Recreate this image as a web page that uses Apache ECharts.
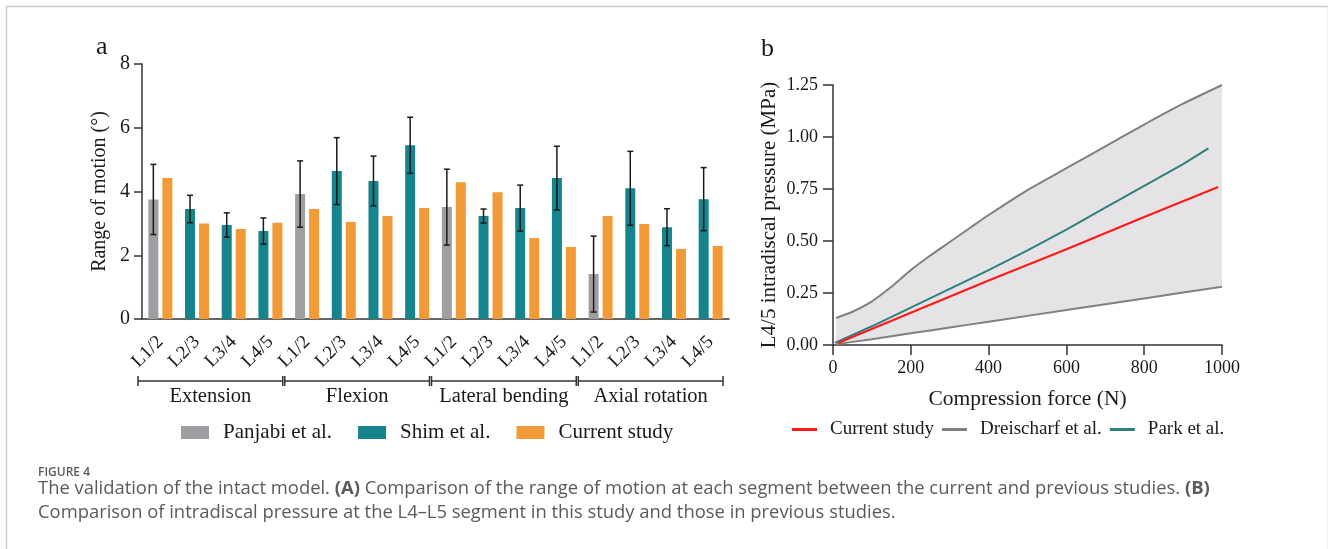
<!DOCTYPE html>
<html>
<head>
<meta charset="utf-8">
<title>Figure 4</title>
<script src="https://cdn.jsdelivr.net/npm/echarts@6/dist/echarts.min.js"></script>
<style>
  html, body { margin: 0; padding: 0; background: #fff; }
  #main { width: 1328px; height: 549px; }
</style>
</head>
<body>
<div id="main"></div>
<script>
// panel a: range of motion per segment
var segments = ['L1/2', 'L2/3', 'L3/4', 'L4/5', 'L1/2', 'L2/3', 'L3/4', 'L4/5',
  'L1/2', 'L2/3', 'L3/4', 'L4/5', 'L1/2', 'L2/3', 'L3/4', 'L4/5'];
var motions = ['Extension', 'Flexion', 'Lateral bending', 'Axial rotation'];
var panjabi = [3.75, '-', '-', '-', 3.92, '-', '-', '-', 3.51, '-', '-', '-', 1.41, '-', '-', '-'];
var panjabiSd = [1.1, '-', '-', '-', 1.04, '-', '-', '-', 1.19, '-', '-', '-', 1.19, '-', '-', '-'];
var shim = ['-', 3.45, 2.95, 2.76, '-', 4.64, 4.33, 5.45, '-', 3.23, 3.48, 4.42, '-', 4.1, 2.88, 3.76];
var shimSd = ['-', 0.43, 0.38, 0.41, '-', 1.05, 0.78, 0.88, '-', 0.22, 0.72, 1.0, '-', 1.16, 0.58, 0.99];
var current = [4.42, 3.0, 2.82, 3.02, 3.45, 3.04, 3.23, 3.48, 4.29, 3.98, 2.54, 2.26, 3.23, 2.98, 2.2, 2.29];

// panel b: intradiscal pressure vs compression force
var bandForce = [8, 50, 100, 150, 200, 250, 300, 350, 400, 500, 600, 700, 800, 900, 1000];
var dreiUpper = [0.13, 0.16, 0.21, 0.28, 0.36, 0.43, 0.495, 0.56, 0.625, 0.745, 0.85, 0.955, 1.06, 1.16, 1.25];
var dreiLower = [0.003, 0.015, 0.028, 0.042, 0.056, 0.07, 0.084, 0.098, 0.112, 0.14, 0.168, 0.196, 0.224, 0.252, 0.28];
var parkForce = [5, 100, 200, 300, 400, 500, 600, 700, 800, 900, 965];
var park = [0.01, 0.09, 0.18, 0.27, 0.36, 0.455, 0.555, 0.66, 0.765, 0.87, 0.945];
var currentForce = [13, 200, 400, 600, 800, 990];
var currentPressure = [0.01, 0.155, 0.31, 0.46, 0.615, 0.76];

var serif = 'Liberation Serif';
var ink = '#1a1a1a';
var barW = 10;
var barGapPx = 4;

function pairs(xs, ys) {
  return xs.map(function (x, i) { return [x, ys[i]]; });
}

var errData = [];
segments.forEach(function (s, i) {
  if (panjabi[i] !== '-') errData.push([i, panjabi[i], panjabiSd[i]]);
  else if (shim[i] !== '-') errData.push([i, shim[i], shimSd[i]]);
});

var groupData = motions.map(function (m, k) { return [k * 4, 0, k * 4 + 3]; });

function renderErr(params, api) {
  var idx = api.value(0);
  var mean = api.value(1);
  var sd = api.value(2);
  var hi = api.coord([idx, mean + sd]);
  var lo = api.coord([idx, mean - sd]);
  var x = hi[0] - (barW + barGapPx) / 2;
  var st = { stroke: ink, lineWidth: 1.5 };
  return {
    type: 'group',
    children: [
      { type: 'line', shape: { x1: x, y1: hi[1], x2: x, y2: lo[1] }, style: st },
      { type: 'line', shape: { x1: x - 3, y1: hi[1], x2: x + 3, y2: hi[1] }, style: st },
      { type: 'line', shape: { x1: x - 3, y1: lo[1], x2: x + 3, y2: lo[1] }, style: st }
    ]
  };
}

function renderGroup(params, api) {
  var band = api.size([1, 0])[0];
  var a = api.coord([api.value(0), 0]);
  var b = api.coord([api.value(2), 0]);
  var x0 = a[0] - band / 2 - 4;
  var x1 = b[0] + band / 2 - 6;
  var y = a[1] + 62;
  var st = { stroke: '#333', lineWidth: 1.5 };
  return {
    type: 'group',
    children: [
      { type: 'line', shape: { x1: x0, y1: y, x2: x1, y2: y }, style: st },
      { type: 'line', shape: { x1: x0, y1: y - 5, x2: x0, y2: y + 5 }, style: st },
      { type: 'line', shape: { x1: x1, y1: y - 5, x2: x1, y2: y + 5 }, style: st },
      {
        type: 'text', x: (x0 + x1) / 2, y: y + 5,
        style: {
          text: motions[params.dataIndex], fill: ink, font: '20.5px "Liberation Serif"',
          align: 'center', verticalAlign: 'top', textAlign: 'center', textVerticalAlign: 'top'
        }
      }
    ]
  };
}

// grey area between the two Dreischarf limits
function renderBand(params, api) {
  var pts = [];
  bandForce.forEach(function (f, i) { pts.push(api.coord([f, dreiUpper[i]])); });
  for (var i = bandForce.length - 1; i >= 0; i--) pts.push(api.coord([bandForce[i], dreiLower[i]]));
  return { type: 'polygon', shape: { points: pts }, style: { fill: '#e6e3e6' } };
}

var chart = echarts.init(document.getElementById('main'));

var option = {
  backgroundColor: '#ffffff',
  animation: false,
  textStyle: { fontFamily: serif, color: ink },
  grid: [
    { left: 142, right: 599, top: 64, bottom: 230 },
    { left: 833, right: 106, top: 85, bottom: 204 }
  ],
  legend: [
    {
      data: [
        { name: 'Panjabi et al.', itemStyle: { color: '#9e9ea3' } },
        { name: 'Shim et al.', itemStyle: { color: '#16848c' } },
        { name: 'Current study', itemStyle: { color: '#f29a38' } }
      ],
      left: 176, top: 417, icon: 'rect', itemWidth: 28, itemHeight: 13, itemGap: 26,
      selectedMode: false,
      textStyle: { fontFamily: serif, fontSize: 21, color: ink, padding: [0, 0, 0, 9] }
    },
    {
      data: [
        { name: 'Current study', itemStyle: { color: '#ff1a1a' } },
        { name: 'Dreischarf et al.', itemStyle: { color: '#808080' } },
        { name: 'Park et al.', itemStyle: { color: '#2f7f7d' } }
      ],
      left: 787, top: 415, icon: 'rect', itemWidth: 25, itemHeight: 3, itemGap: 8,
      selectedMode: false,
      textStyle: { fontFamily: serif, fontSize: 19, color: ink, padding: [0, 0, 0, 8] }
    }
  ],
  xAxis: [
    {
      type: 'category', gridIndex: 0, data: segments,
      axisLine: { lineStyle: { color: '#333', width: 1.5 } },
      axisTick: { alignWithLabel: true, length: 8, lineStyle: { color: '#333', width: 1.5 } },
      axisLabel: { rotate: 45, margin: 20, fontFamily: serif, fontSize: 19, color: ink, interval: 0 }
    },
    {
      type: 'value', gridIndex: 1, min: 0, max: 1000, interval: 200,
      name: 'Compression force (N)', nameLocation: 'middle', nameGap: 43,
      nameTextStyle: { fontFamily: serif, fontSize: 21.5, color: ink },
      splitLine: { show: false },
      axisLine: { lineStyle: { color: '#333', width: 1.5 } },
      axisTick: { length: 10, lineStyle: { color: '#333', width: 1.5 } },
      axisLabel: {
        margin: 14, fontFamily: serif, fontSize: 18, color: ink,
        formatter: function (v) { return String(v); }
      }
    }
  ],
  yAxis: [
    {
      type: 'value', gridIndex: 0, min: 0, max: 8, interval: 2,
      name: 'Range of motion (°)', nameLocation: 'middle', nameGap: 32,
      nameTextStyle: { fontFamily: serif, fontSize: 20, color: ink },
      splitLine: { show: false },
      axisLine: { show: true, lineStyle: { color: '#333', width: 1.5 } },
      axisTick: { show: true, length: 8, lineStyle: { color: '#333', width: 1.5 } },
      axisLabel: { margin: 12, fontFamily: serif, fontSize: 20, color: ink }
    },
    {
      type: 'value', gridIndex: 1, min: 0, max: 1.25, interval: 0.25,
      name: 'L4/5 intradiscal pressure (MPa)', nameLocation: 'middle', nameGap: 53,
      nameTextStyle: { fontFamily: serif, fontSize: 21, color: ink },
      splitLine: { show: false },
      axisLine: { show: true, lineStyle: { color: '#333', width: 1.5 } },
      axisTick: { show: true, length: 10, lineStyle: { color: '#333', width: 1.5 } },
      axisLabel: {
        margin: 15, fontFamily: serif, fontSize: 18, color: ink,
        formatter: function (v) { return v.toFixed(2); }
      }
    }
  ],
  series: [
    {
      name: 'Panjabi et al.', type: 'bar', stack: 'ref', xAxisIndex: 0, yAxisIndex: 0,
      data: panjabi, barWidth: barW, barGap: '40%', itemStyle: { color: '#9e9ea3' }
    },
    {
      name: 'Shim et al.', type: 'bar', stack: 'ref', xAxisIndex: 0, yAxisIndex: 0,
      data: shim, barWidth: barW, barGap: '40%', itemStyle: { color: '#16848c' }
    },
    {
      name: 'Current study', type: 'bar', xAxisIndex: 0, yAxisIndex: 0,
      data: current, barWidth: barW, barGap: '40%', itemStyle: { color: '#f29a38' }
    },
    {
      type: 'custom', xAxisIndex: 0, yAxisIndex: 0, clip: false, z: 5,
      renderItem: renderErr, data: errData, silent: true
    },
    {
      type: 'custom', xAxisIndex: 0, yAxisIndex: 0, clip: false,
      renderItem: renderGroup, data: groupData, silent: true
    },
    {
      type: 'custom', xAxisIndex: 1, yAxisIndex: 1, z: 1,
      renderItem: renderBand, data: [[0, 0]], silent: true
    },
    {
      name: 'Dreischarf et al.', type: 'line', xAxisIndex: 1, yAxisIndex: 1,
      data: pairs(bandForce, dreiUpper), symbol: 'none', smooth: 0.2,
      itemStyle: { color: '#808080' }, lineStyle: { color: '#808080', width: 2 }
    },
    {
      name: 'Dreischarf et al.', type: 'line', xAxisIndex: 1, yAxisIndex: 1,
      data: pairs(bandForce, dreiLower), symbol: 'none',
      itemStyle: { color: '#808080' }, lineStyle: { color: '#808080', width: 2 }
    },
    {
      name: 'Park et al.', type: 'line', xAxisIndex: 1, yAxisIndex: 1,
      data: pairs(parkForce, park), symbol: 'none',
      itemStyle: { color: '#2f7f7d' }, lineStyle: { color: '#2f7f7d', width: 2 }
    },
    {
      name: 'Current study', type: 'line', xAxisIndex: 1, yAxisIndex: 1,
      data: pairs(currentForce, currentPressure), symbol: 'none', z: 4,
      itemStyle: { color: '#ff1a1a' }, lineStyle: { color: '#ff1a1a', width: 2.2 }
    }
  ],
  graphic: [
    {
      type: 'rect', left: 4, top: 4, silent: true,
      shape: { width: 1322, height: 560 },
      style: { fill: 'none', stroke: '#cccccc', lineWidth: 1.5 }
    },
    { type: 'text', left: 96, top: 34, style: { text: 'a', font: '26px "Liberation Serif"', fill: ink } },
    { type: 'text', left: 761, top: 36, style: { text: 'b', font: '26px "Liberation Serif"', fill: ink } },
    {
      type: 'text', left: 38, top: 467,
      style: { text: 'FIGURE 4', font: '600 12px "Open Sans"', fill: '#5a5a5a' }
    },
    {
      type: 'text', left: 38, top: 480,
      style: {
        text: '{n|The validation of the intact model. }{b|(A)}{n| Comparison of the range of motion at each segment between the current and previous studies. }{b|(B)}',
        rich: {
          n: { font: '18.4px "Open Sans"', fill: '#5a5a5a' },
          b: { font: 'bold 18.4px "Open Sans"', fill: '#5a5a5a' }
        }
      }
    },
    {
      type: 'text', left: 38, top: 504,
      style: {
        text: 'Comparison of intradiscal pressure at the L4\u2013L5 segment in this study and those in previous studies.',
        font: '18.4px "Open Sans"', fill: '#5a5a5a'
      }
    }
  ]
};

chart.setOption(option);
</script>
</body>
</html>
